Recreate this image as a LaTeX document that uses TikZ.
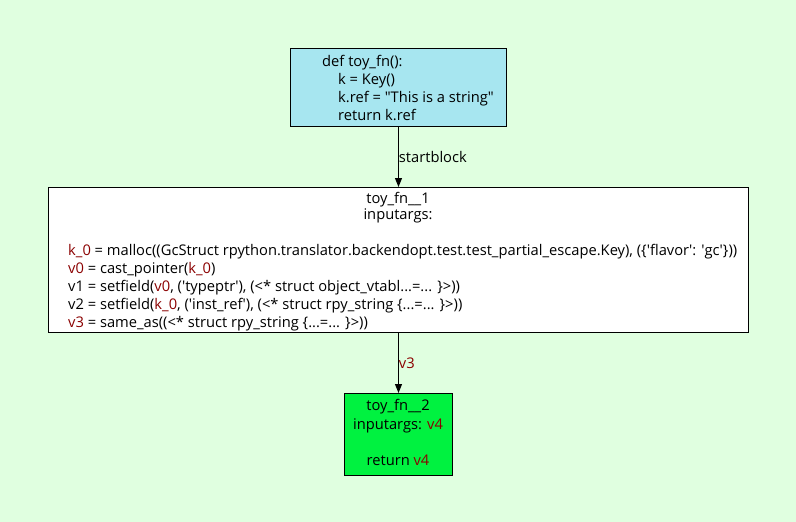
\documentclass[tikz,border=0pt]{standalone}
\usepackage{fontspec}
\setmainfont{Open Sans}
\usetikzlibrary{arrows.meta,positioning}

\definecolor{bggreen}{RGB}{224,255,224}
\definecolor{startblue}{RGB}{167,230,240}
\definecolor{retgreen}{RGB}{0,242,64}
\definecolor{varred}{RGB}{139,0,0}

\newcommand{\vr}[1]{\textcolor{varred}{#1}}
\newcommand{\sq}{\textquotesingle}

\tikzset{
    block/.style={draw=black, line width=1pt, inner sep=0pt, anchor=north west},
    code/.style={anchor=base west, inner sep=0pt, font=\fontsize{14.7}{16}\selectfont},
    title/.style={anchor=base, inner sep=0pt, font=\fontsize{14.7}{16}\selectfont},
    flow/.style={-{Triangle[length=9pt,width=7pt]}, line width=0.9pt},
    flowlabel/.style={right, inner sep=0pt, font=\fontsize{14.7}{16}\selectfont},
}

\begin{document}
\begin{tikzpicture}[x=1pt, y=-1pt]

% ---- background ----
\fill[bggreen] (0,0) rectangle (796,522);
\useasboundingbox (0,0) rectangle (796,522);

% ---- start block ----
\node[block, fill=startblue, minimum width=216pt, minimum height=78pt] (start) at (290,48) {};
\node[code] (s1) at (322,66) {def toy\_fn():};
\node[code] (s2) at (338,84) {k = Key()};
\node[code] (s3) at (338,102) {k.ref = \textquotedbl This is a string\textquotedbl};
\node[code] (s4) at (338,120) {return k.ref};

% ---- block 1 ----
\node[block, fill=white, minimum width=700pt, minimum height=145pt] (blk1) at (48,187) {};
\node[title] (b1title) at (398,203) {toy\_fn\_\_1};
\node[title] (b1args) at (398,219) {inputargs:};
\node[code] (b1l1) at (68,255) {\vr{k\_0} = malloc((GcStruct rpython.translator.backendopt.test.test\_partial\_escape.Key), (\{\sq flavor\sq: \sq gc\sq\}))};
\node[code] (b1l2) at (68,273) {\vr{v0} = cast\_pointer(\vr{k\_0})};
\node[code] (b1l3) at (68,291) {v1 = setfield(\vr{v0}, (\sq typeptr\sq), (<* struct object\_vtabl...=... \}>))};
\node[code] (b1l4) at (68,309) {v2 = setfield(\vr{k\_0}, (\sq inst\_ref\sq), (<* struct rpy\_string \{...=... \}>))};
\node[code] (b1l5) at (68,327) {\vr{v3} = same\_as((<* struct rpy\_string \{...=... \}>))};

% ---- return block ----
\node[block, fill=retgreen, minimum width=108pt, minimum height=82pt] (ret) at (344,393) {};
\node[title] (r1) at (398,410) {toy\_fn\_\_2};
\node[title] (r2) at (398,429) {inputargs: \vr{v4}};
\node[title] (r3) at (398,465) {return \vr{v4}};

% ---- links ----
\draw[flow] (start.south) -- (blk1.north) node[flowlabel, midway] (lblstart) {startblock};
\draw[flow] (blk1.south) -- (ret.north) node[flowlabel, midway, text=varred] (lblv3) {v3};

\end{tikzpicture}
\end{document}
